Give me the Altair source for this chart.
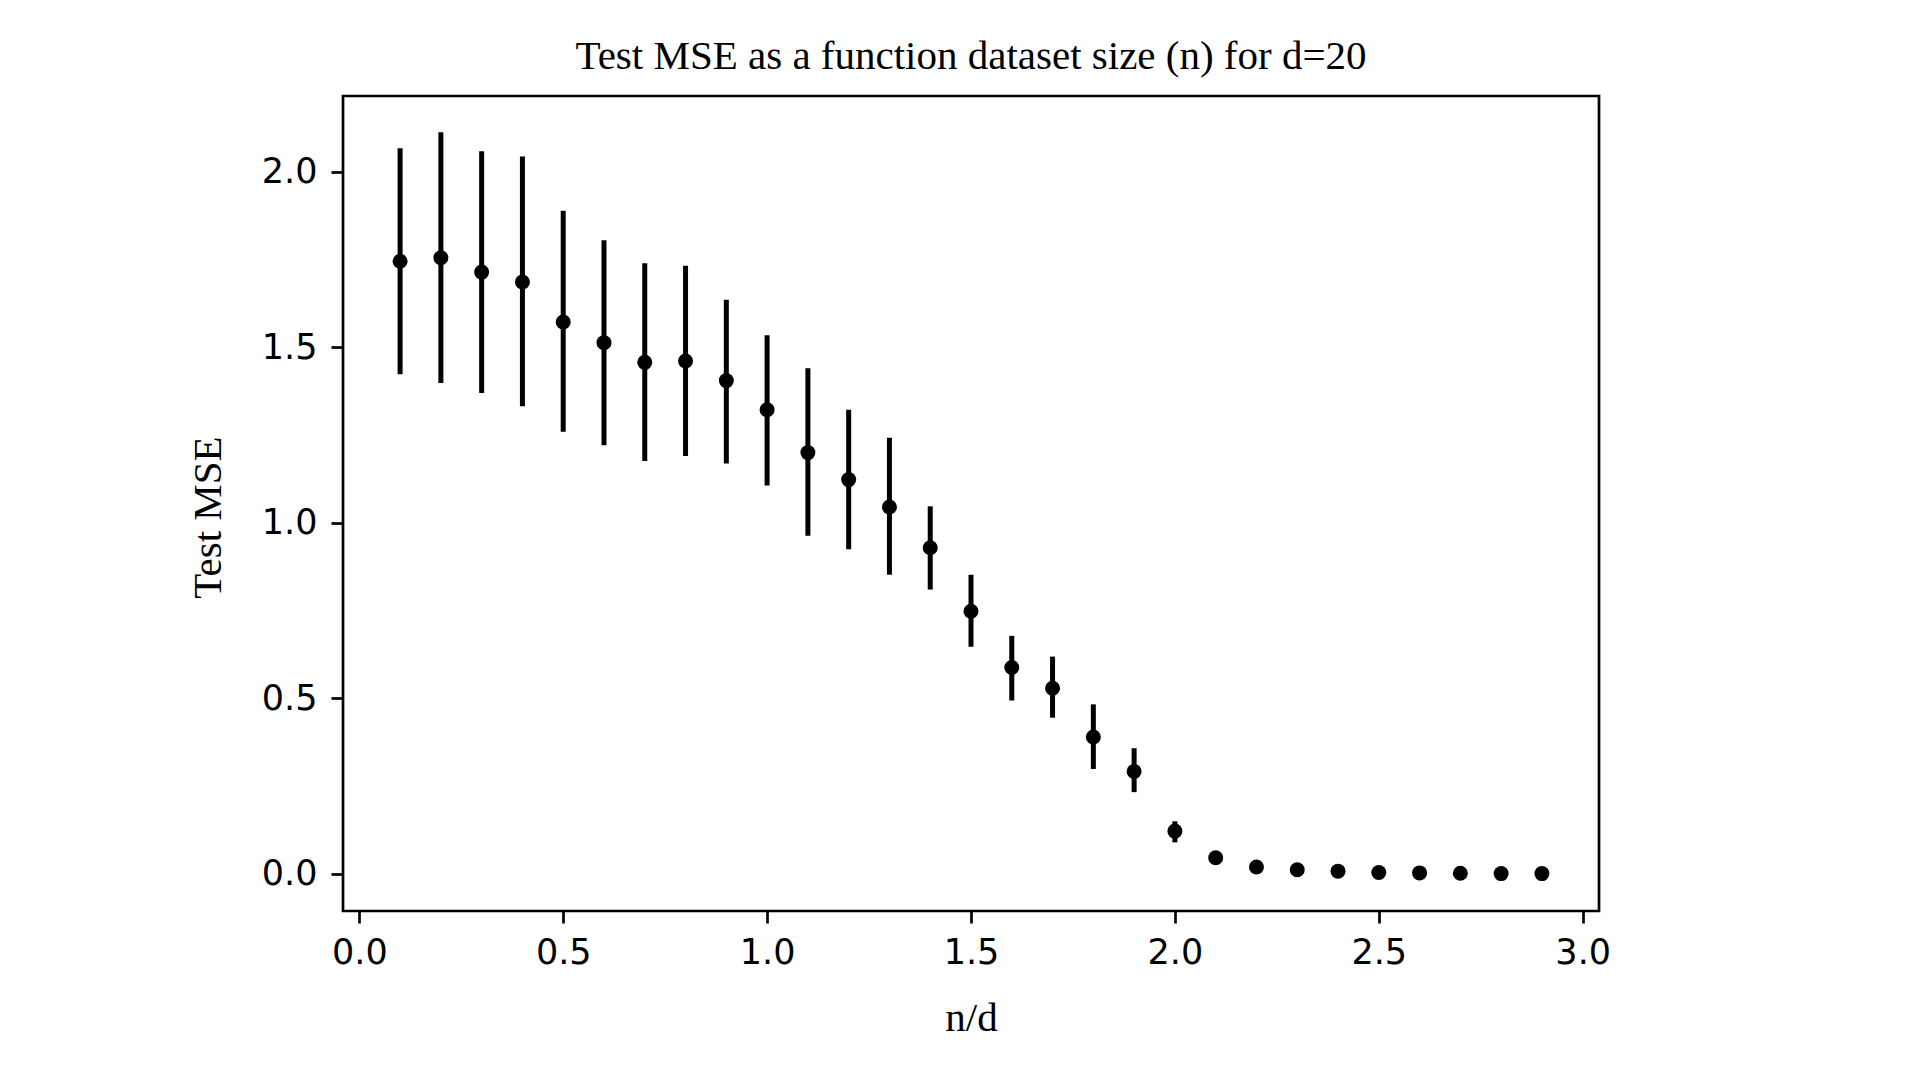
import altair as alt
import pandas as pd

# n/d ratio
ratio = [0.1, 0.2, 0.3, 0.4, 0.5, 0.6, 0.7, 0.8, 0.9, 1.0,
         1.1, 1.2, 1.3, 1.4, 1.5, 1.6, 1.7, 1.8, 1.9, 2.0,
         2.1, 2.2, 2.3, 2.4, 2.5, 2.6, 2.7, 2.8, 2.9]
# mean test MSE
mse_mean = [1.745, 1.755, 1.714, 1.686, 1.572, 1.513, 1.457, 1.461, 1.405, 1.322,
            1.200, 1.123, 1.045, 0.929, 0.748, 0.588, 0.529, 0.390, 0.292, 0.122,
            0.046, 0.020, 0.012, 0.008, 0.004, 0.003, 0.002, 0.001, 0.001]
# upper end of error bar
mse_upper = [2.067, 2.112, 2.058, 2.043, 1.889, 1.805, 1.739, 1.732, 1.635, 1.534,
             1.440, 1.322, 1.242, 1.047, 0.852, 0.678, 0.619, 0.483, 0.358, 0.150,
             0.056, 0.024, 0.015, 0.010, 0.005, 0.004, 0.003, 0.002, 0.002]
# lower end of error bar
mse_lower = [1.423, 1.398, 1.370, 1.332, 1.259, 1.221, 1.176, 1.190, 1.169, 1.106,
             0.963, 0.925, 0.852, 0.810, 0.647, 0.494, 0.445, 0.299, 0.233, 0.090,
             0.036, 0.016, 0.009, 0.006, 0.003, 0.002, 0.001, 0.000, 0.000]

x_ticks = [0.0, 0.5, 1.0, 1.5, 2.0, 2.5, 3.0]
y_ticks = [0.0, 0.5, 1.0, 1.5, 2.0]

df = pd.DataFrame({"ratio": ratio, "mean": mse_mean, "upper": mse_upper, "lower": mse_lower})

W, H = 1256, 815

x_enc = alt.X("ratio:Q",
              scale=alt.Scale(domain=[-0.04, 3.04], nice=False, zero=False),
              axis=alt.Axis(values=x_ticks, format=".1f", title="n/d",
                            grid=False, domain=False,
                            tickSize=12, tickWidth=2.7, tickColor="black",
                            labelFont="DejaVu Sans", labelFontSize=35, labelColor="black",
                            labelBaseline="alphabetic", labelPadding=40,
                            titleFont="Liberation Serif", titleFontSize=41,
                            titleFontWeight="normal", titleColor="black",
                            titleX=W / 2, titleY=119, titleAlign="center",
                            titleBaseline="alphabetic"))

y_scale = alt.Scale(domain=[-0.1055, 2.2155], nice=False, zero=False)
y_axis = alt.Axis(values=y_ticks, format=".1f", title="Test MSE",
                  grid=False, domain=False,
                  tickSize=12, tickWidth=2.7, tickColor="black",
                  labelFont="DejaVu Sans", labelFontSize=35, labelColor="black",
                  labelPadding=14,
                  titleFont="Liberation Serif", titleFontSize=41,
                  titleFontWeight="normal", titleColor="black",
                  titleAngle=270, titleX=-123, titleY=421, titleAlign="center",
                  titleBaseline="alphabetic")

bars = alt.Chart(df).mark_rule(color="black", strokeWidth=5).encode(
    x=x_enc,
    y=alt.Y("lower:Q", scale=y_scale, axis=y_axis),
    y2="upper:Q",
)

points = alt.Chart(df).mark_circle(color="black", size=225, opacity=1).encode(
    x="ratio:Q",
    y="mean:Q",
)

chart = alt.layer(bars, points).properties(
    width=W,
    height=H,
    background="white",
    title=alt.TitleParams(
        "Test MSE as a function dataset size (n) for d=20",
        font="Liberation Serif", fontSize=41, fontWeight="normal", color="black",
        anchor="middle", baseline="alphabetic", offset=-14,
    ),
    autosize=alt.AutoSizeParams(type="none"),
    padding={"left": 335, "top": 88, "right": 300, "bottom": 150},
).configure_view(
    stroke="black", strokeWidth=2.7
)

chart.save("out.html", embed_options={"renderer": "svg", "actions": False})
